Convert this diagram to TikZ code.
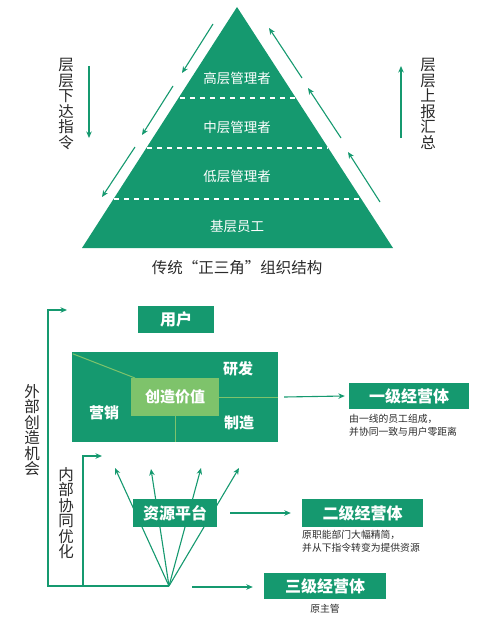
\documentclass[tikz,border=0pt]{standalone}
\usepackage{fontspec}
\newfontfamily\cjk{Noto Sans CJK SC}
\usetikzlibrary{arrows.meta}
\definecolor{gr}{HTML}{15996F}
\definecolor{lgr}{HTML}{7EC36B}
\definecolor{txt}{HTML}{2A2A2A}
\tikzset{
  arr/.style={draw=gr, line width=1.1pt, -{Stealth[length=6.5pt,width=5.5pt]}},
  gbox/.style={fill=gr, text=white, inner sep=0pt, font=\cjk\bfseries\fontsize{16}{18}\selectfont},
  plab/.style={text=white, inner sep=0pt, font=\cjk\fontsize{13.5}{15}\selectfont},
  wlab/.style={text=white, inner sep=0pt, font=\cjk\bfseries\fontsize{15}{17}\selectfont},
  vtext/.style={text=txt, align=center, inner sep=0pt, font=\cjk\fontsize{15.5}{15.5}\selectfont},
  desc/.style={text=txt, align=left, inner sep=0pt, anchor=north west, font=\cjk\fontsize{9.8}{12.7}\selectfont},
  dline/.style={draw=white, line width=1.2pt, dash pattern=on 5pt off 5pt},
}
\begin{document}
\begin{tikzpicture}[x=1pt,y=-1pt]
\useasboundingbox (0,0) rectangle (500,618);
% ---------- pyramid ----------
\fill[gr] (237,7) -- (393,248) -- (82,248) -- cycle;
\draw[dline] (180,98) -- (295,98);
\draw[dline] (147,148) -- (328,148);
\draw[dline] (114,199) -- (360,199);
\node[plab] (p1) at (237,78) {高层管理者};
\node[plab] (p2) at (237,127) {中层管理者};
\node[plab] (p3) at (237,176) {低层管理者};
\node[plab] (p4) at (237,226) {基层员工};
% side arrows
\coordinate (la1) at (213,24);  \coordinate (lb1) at (182,73);
\coordinate (la2) at (173,86);  \coordinate (lb2) at (142,135);
\coordinate (la3) at (135,147); \coordinate (lb3) at (102,197);
\draw[arr] (la1) -- (lb1);
\draw[arr] (la2) -- (lb2);
\draw[arr] (la3) -- (lb3);
\coordinate (ra1) at (302,78);  \coordinate (rb1) at (269,28);
\coordinate (ra2) at (341,138); \coordinate (rb2) at (308,88);
\coordinate (ra3) at (380,202); \coordinate (rb3) at (348,152);
\draw[arr] (ra1) -- (rb1);
\draw[arr] (ra2) -- (rb2);
\draw[arr] (ra3) -- (rb3);
% vertical arrows and texts
\coordinate (lv1) at (89,66); \coordinate (lv2) at (89,138);
\draw[arr] (lv1) -- (lv2);
\coordinate (rv1) at (401,138); \coordinate (rv2) at (401,66);
\draw[arr] (rv1) -- (rv2);
\node[vtext] (down) at (66,104) {层\\层\\下\\达\\指\\令};
\node[vtext] (up) at (428,104) {层\\层\\上\\报\\汇\\总};
\node[text=txt, inner sep=0pt, font=\cjk\fontsize{15.5}{18}\selectfont] (cap) at (237,268) {传统“正三角”组织结构};
% ---------- lower diagram ----------
\node[gbox, minimum width=76pt, minimum height=27pt] (user) at (176,319.5) {用户};
\node[fill=gr, minimum width=206pt, minimum height=90pt, inner sep=0pt] (big) at (175,397) {};
\node[fill=lgr, text=white, inner sep=0pt, minimum width=88pt, minimum height=38pt,
      font=\cjk\bfseries\fontsize{15}{17}\selectfont] (cz) at (175,397) {创造价值};
\coordinate (czn) at (135,378);
\draw[lgr, line width=1pt] ([shift={(1,2)}]big.north west) -- (czn);
\draw[lgr, line width=1pt] (cz.east) -- (big.east);
\draw[lgr, line width=1pt] (cz.south) -- (big.south);
\node[wlab] (yf) at (238,369) {研发};
\node[wlab] (yx) at (104,413) {营销};
\node[wlab] (zz) at (239,423) {制造};
% level 1
\node[gbox, minimum width=120pt, minimum height=26pt] (l1) at (409,396) {一级经营体};
\draw[arr] ([xshift=6pt]big.east) -- ([xshift=-4pt]l1.west);
\node[desc] (d1) at (349,414) {由一线的员工组成，\\并协同一致与用户零距离};
% fan and resource platform
\coordinate (F) at (169,586);
\coordinate (t1) at (115,468);
\coordinate (t2) at (151,469);
\coordinate (t3) at (201,468);
\coordinate (t4) at (239,468);
\draw[arr] (F) -- (t1);
\draw[arr] (F) -- (t2);
\draw[arr] (F) -- (t3);
\draw[arr] (F) -- (t4);
\node[gbox, minimum width=84pt, minimum height=28pt] (res) at (175,513) {资源平台};
% outer / inner feedback lines
\coordinate (o1) at (48,586); \coordinate (o2) at (48,310); \coordinate (o3) at (67,310);
\draw[arr] (F) -- (o1) -- (o2) -- (o3);
\coordinate (i1) at (83,586); \coordinate (i2) at (83,456); \coordinate (i3) at (102,456);
\draw[arr] (i1) -- (i2) -- (i3);
\node[vtext] (ext) at (32,430) {外\\部\\创\\造\\机\\会};
\node[vtext] (int) at (66,513) {内\\部\\协\\同\\优\\化};
% level 2
\node[gbox, minimum width=121pt, minimum height=28pt] (l2) at (362.5,513) {二级经营体};
\coordinate (a2) at (230,513);
\draw[arr] (a2) -- ([xshift=-11pt]l2.west);
\node[desc] (d2) at (302,530.5) {原职能部门大幅精简，\\并从下指令转变为提供资源};
% level 3
\node[gbox, minimum width=122pt, minimum height=26pt] (l3) at (325,586) {三级经营体};
\coordinate (a3) at (192,587);
\draw[arr] (a3) -- ([xshift=-11pt]l3.west |- a3);
\node[text=txt, inner sep=0pt, font=\cjk\fontsize{9.8}{12}\selectfont] (d3) at (325,609) {原主管};
\end{tikzpicture}
\end{document}
